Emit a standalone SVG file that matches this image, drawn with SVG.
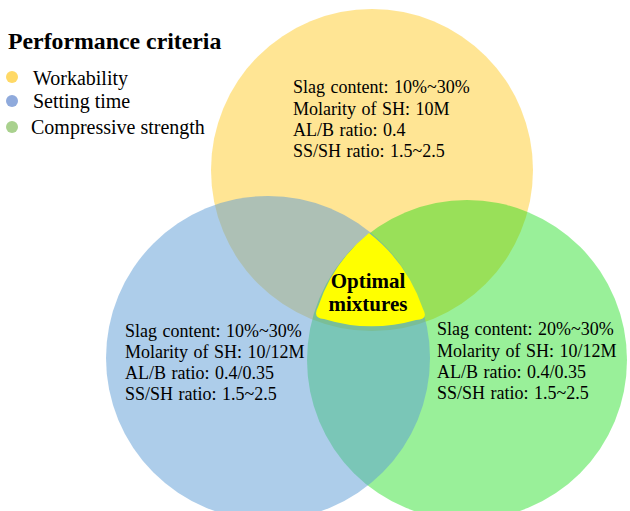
<svg xmlns="http://www.w3.org/2000/svg" width="630" height="511" viewBox="0 0 630 511">
<style>
.t{font-family:"Liberation Serif","Times New Roman",serif;font-size:18px;fill:#000;word-spacing:1px}
.lg{font-family:"Liberation Serif","Times New Roman",serif;font-size:20px;fill:#000}
.b{font-family:"Liberation Serif","Times New Roman",serif;font-weight:bold;fill:#000}
</style>
<rect width="630" height="511" fill="#ffffff"/>
<g id="legend">
<text class="b" x="8" y="49" font-size="23.8">Performance criteria</text>
<circle cx="12" cy="77" r="6" fill="#FFD966"/>
<text class="lg" x="33" y="85">Workability</text>
<circle cx="12" cy="101" r="6" fill="#8FAADC"/>
<text class="lg" x="33" y="108">Setting time</text>
<circle cx="12" cy="127" r="6" fill="#A9D18E"/>
<text class="lg" x="31" y="134">Compressive strength</text>
</g>
<g id="workability">
<circle cx="372" cy="170" r="161" fill="#FFC000" fill-opacity="0.42"/>
</g>
<g id="compressive-strength">
<circle cx="467" cy="360" r="160" fill="#00DA00" fill-opacity="0.4"/>
</g>
<g id="setting-time">
<circle cx="268" cy="358" r="162" fill="#5B9BD5" fill-opacity="0.5"/>
</g>
<g id="workability-text">
<text class="t" x="293" y="93">Slag content: 10%~30%</text>
<text class="t" x="293" y="115">Molarity of SH: 10M</text>
<text class="t" x="293" y="136">AL/B ratio: 0.4</text>
<text class="t" x="293" y="157">SS/SH ratio: 1.5~2.5</text>
</g>
<g id="setting-time-text">
<text class="t" x="125" y="337">Slag content: 10%~30%</text>
<text class="t" x="125" y="358">Molarity of SH: 10/12M</text>
<text class="t" x="125" y="379">AL/B ratio: 0.4/0.35</text>
<text class="t" x="125" y="400">SS/SH ratio: 1.5~2.5</text>
</g>
<g id="compressive-strength-text">
<text class="t" x="437" y="335">Slag content: 20%~30%</text>
<text class="t" x="437" y="357">Molarity of SH: 10/12M</text>
<text class="t" x="437" y="378">AL/B ratio: 0.4/0.35</text>
<text class="t" x="437" y="399">SS/SH ratio: 1.5~2.5</text>
</g>
<g id="optimal-mixtures">
<path d="M369,233 A160,160 0 0 0 318,307 Q312,318 324,319 A161,161 0 0 0 416,320 Q429,320 423,309 A162,162 0 0 0 369,233 Z" fill="#FFFF00"/>
<text class="b" x="368" y="288" font-size="21" text-anchor="middle">Optimal</text>
<text class="b" x="368" y="311" font-size="21" text-anchor="middle">mixtures</text>
</g>
</svg>
